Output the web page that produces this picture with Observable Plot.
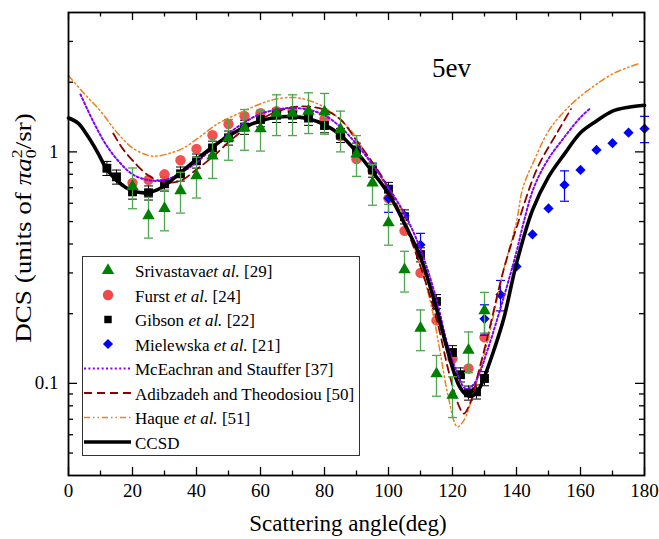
<!DOCTYPE html>
<html><head><meta charset="utf-8">
<script src="https://cdn.jsdelivr.net/npm/d3@7"></script>
<script src="https://cdn.jsdelivr.net/npm/@observablehq/plot@0.6"></script>
<style>
body{margin:0;background:#fff;}
#chart{position:relative;width:659px;height:539px;}
#chart svg text{font-family:"Liberation Serif","Times New Roman",serif;}
</style></head><body><div id="chart"></div>
<script>
// ---------- data ----------
const xMajorTicks = [0,20,40,60,80,100,120,140,160,180];
const xMinorTicks = [10,30,50,70,90,110,130,150,170];
const yMajorTicks = [0.1,1];
const yMinorTicks = [0.05,0.06,0.07,0.08,0.09,0.2,0.3,0.4,0.5,0.6,0.7,0.8,0.9,2,3];

const srivAngle = [20,25,30,35,40,45,50,55,60,65,70,75,80,85,90,95,100,105,110,115,120,125,130];
const srivDCS   = [0.71,0.53,0.57,0.68,0.79,0.96,1.15,1.27,1.26,1.47,1.47,1.50,1.49,1.25,0.98,0.735,0.494,0.31,0.173,0.110,0.089,0.139,0.206];
const srivErr   = [0.2,0.2,0.2,0.2,0.2,0.2,0.2,0.2,0.2,0.2,0.2,0.2,0.2,0.2,0.2,0.2,0.2,0.2,0.2,0.2,0.2,0.2,0.2];

const furstAngle = [20,25,30,35,40,45,50,55,60,65,70,75,80,85,90,95,100,105,110,115,120,125,130];
const furstDCS   = [0.735,0.757,0.80,0.92,1.03,1.18,1.32,1.43,1.47,1.50,1.50,1.46,1.39,1.17,0.93,0.83,0.63,0.456,0.30,0.187,0.128,0.116,0.158];

const gibAngle = [12,15,20,25,30,35,40,45,50,55,60,65,70,75,80,85,90,95,100,105,110,115,120,122.5,125,127.5,130];
const gibDCS   = [0.85,0.78,0.672,0.666,0.728,0.804,0.915,1.04,1.15,1.28,1.38,1.44,1.44,1.40,1.30,1.18,1.02,0.836,0.69,0.525,0.36,0.226,0.136,0.109,0.091,0.092,0.105];
const gibErr   = 0.07;

const mielAngle = [100,105,110,130,135,140,145,150,155,160,165,170,175,180];
const mielDCS   = [0.63,0.53,0.397,0.19,0.242,0.32,0.44,0.57,0.72,0.836,1.02,1.09,1.21,1.26];
const mielErr   = [0.13,0,0.12,0.15,0.15,0,0,0,0.15,0,0,0,0,0.13];

const mceAngle = [3.75,8,12,16,20,25,30,35,40,45,50,55,60,65,70,75,80,85,90,95,100,105,110,115,118,121,124,126,128,131,136,140,142.3,145.4,149.6,154.8,160,163];
const mceDCS   = [1.77,1.33,1.06,0.9,0.8,0.755,0.755,0.81,0.90,1.04,1.2,1.34,1.46,1.52,1.55,1.52,1.44,1.28,1.08,0.88,0.70,0.54,0.38,0.23,0.155,0.115,0.095,0.097,0.107,0.14,0.235,0.37,0.50,0.70,0.915,1.15,1.41,1.54];

const adiAngle = [14,17,20,25,30,35,40,45,50,55,60,65,70,75,80,85,90,95,100,105,110,115,119,122,123.5,125.5,128,131,136,140,146.5,153,157];
const adiDCS   = [1.2,1.03,0.92,0.79,0.74,0.75,0.84,0.95,1.1,1.25,1.38,1.49,1.56,1.57,1.52,1.38,1.12,0.9,0.70,0.49,0.32,0.19,0.11,0.08,0.074,0.082,0.11,0.16,0.31,0.47,0.85,1.23,1.53];

const haqAngle = [0,5,10,15,20,25,28,32,36,41,46.5,52,57,62,67,72,78,83,88,93,98,103,108,113,116,118.5,121.5,123.5,126.5,131,136,140,142,146,150,155,160,165,170,175,178];
const haqDCS   = [2.13,1.78,1.50,1.22,1.04,0.965,0.96,0.99,1.04,1.16,1.32,1.44,1.55,1.65,1.71,1.71,1.61,1.45,1.25,0.98,0.76,0.60,0.39,0.228,0.14,0.09,0.065,0.069,0.09,0.153,0.31,0.50,0.70,0.95,1.23,1.5,1.74,1.96,2.17,2.32,2.4];

const ccsdAngle = [0,3,6,9,12,15,18,21,25,29,33,38,45,50,55,60,65,70,75,80,85,90,95,100,105,110,115,117,120,122,124,126,128,130,133,136,140,145,150,155,160,165,170,175,180];
const ccsdDCS   = [1.40,1.33,1.17,1.0,0.84,0.755,0.70,0.672,0.667,0.70,0.77,0.88,1.05,1.17,1.28,1.36,1.41,1.42,1.39,1.31,1.18,1.0,0.82,0.66,0.49,0.35,0.21,0.165,0.117,0.098,0.09,0.088,0.093,0.107,0.14,0.19,0.33,0.56,0.78,0.98,1.21,1.36,1.50,1.56,1.59];

// ---------- build ----------
const fontFam = "Liberation Serif, Times New Roman, serif";
const W = 659, H = 539, mL = 68, mR = 15, mT = 12, mB = 64;
const plotW = W - mL - mR, plotH = H - mT - mB;

const C = {
  sriv: "#008000", srivBar: "#4ea64e", furst: "#f04848", gib: "#000000", miel: "#0000ff",
  mce: "#8000ff", adi: "#8b0000", haq: "#f0801e", ccsd: "#000000"
};
const DASH = { mce: "2,2.4", adi: "8,5", haq: "6,3,1.5,3,1.5,3" };

const zip = (a, v, e) => a.map((x, i) => ({a: x, v: v[i], e: e == null ? 0 : (Array.isArray(e) ? e[i] : e)}));
const sriv = zip(srivAngle, srivDCS, srivErr);
const furst = zip(furstAngle, furstDCS);
const gib = zip(gibAngle, gibDCS, gibErr);
const miel = zip(mielAngle, mielDCS, mielErr);
const mielBars = miel.filter(d => d.e > 0);
const mce = zip(mceAngle, mceDCS), adi = zip(adiAngle, adiDCS), haq = zip(haqAngle, haqDCS), ccsd = zip(ccsdAngle, ccsdDCS);

const capSymbol = {draw(ctx, size) { const r = Math.sqrt(size / Math.PI); ctx.moveTo(-r, 0); ctx.lineTo(r, 0); }};

function errorBars(data, color, width, cap) {
  return [
    Plot.ruleX(data, {x: "a", y1: d => d.v * (1 - d.e), y2: d => d.v * (1 + d.e), stroke: color, strokeWidth: width}),
    Plot.dot(data, {x: "a", y: d => d.v * (1 - d.e), symbol: capSymbol, r: cap, stroke: color, strokeWidth: width, fill: "none"}),
    Plot.dot(data, {x: "a", y: d => d.v * (1 + d.e), symbol: capSymbol, r: cap, stroke: color, strokeWidth: width, fill: "none"})
  ];
}
const curve = "catmull-rom";

const chart = Plot.plot({
  width: W, height: H,
  marginLeft: mL, marginRight: mR, marginTop: mT, marginBottom: mB,
  style: {fontFamily: fontFam, fontSize: "19px", color: "black", background: "white", overflow: "visible"},
  x: {domain: [0, 180]},
  y: {type: "log", domain: [0.04, 4]},
  marks: [
    ...errorBars(gib, C.gib, 1, 4.5),
    Plot.dot(furst, {x: "a", y: "v", r: 5.2, fill: C.furst, fillOpacity: 0.95, stroke: "none"}),
    Plot.dot(gib, {x: "a", y: "v", r: 5, symbol: "square", fill: C.gib, stroke: "none"}),
    ...errorBars(mielBars, C.miel, 1.2, 4.5),
    Plot.dot(miel, {x: "a", y: "v", r: 4.6, symbol: "diamond2", fill: C.miel, stroke: "none"}),
    Plot.line(haq, {x: "a", y: "v", stroke: C.haq, strokeWidth: 1.5, strokeDasharray: DASH.haq, curve}),
    Plot.line(adi, {x: "a", y: "v", stroke: C.adi, strokeWidth: 1.8, strokeDasharray: DASH.adi, curve}),
    Plot.line(mce, {x: "a", y: "v", stroke: C.mce, strokeWidth: 2, strokeDasharray: DASH.mce, curve}),
    Plot.line(ccsd, {x: "a", y: "v", stroke: C.ccsd, strokeWidth: 3.6, curve}),
    ...errorBars(sriv, C.srivBar, 1.3, 4.5),
    Plot.dot(sriv, {x: "a", y: "v", r: 4.6, symbol: "triangle", fill: C.sriv, stroke: "none"}),
    Plot.tickX(xMajorTicks, {x: d => d, insetTop: plotH - 8, stroke: "black", strokeWidth: 1.3}),
    Plot.tickX(xMinorTicks, {x: d => d, insetTop: plotH - 4.5, stroke: "black", strokeWidth: 1.3}),
    Plot.tickX(xMajorTicks, {x: d => d, insetBottom: plotH - 8, stroke: "black", strokeWidth: 1.3}),
    Plot.tickX(xMinorTicks, {x: d => d, insetBottom: plotH - 4.5, stroke: "black", strokeWidth: 1.3}),
    Plot.tickY(yMajorTicks, {y: d => d, insetRight: plotW - 9, stroke: "black", strokeWidth: 1.3}),
    Plot.tickY(yMinorTicks, {y: d => d, insetRight: plotW - 5, stroke: "black", strokeWidth: 1.3}),
    Plot.tickY(yMajorTicks, {y: d => d, insetLeft: plotW - 9, stroke: "black", strokeWidth: 1.3}),
    Plot.tickY(yMinorTicks, {y: d => d, insetLeft: plotW - 5, stroke: "black", strokeWidth: 1.3}),
    Plot.axisX({ticks: xMajorTicks, tickSize: 0, tickPadding: 8, fontSize: 19, fontFamily: fontFam, label: null, tickFormat: d => String(d)}),
    Plot.axisY({ticks: yMajorTicks, tickSize: 0, tickPadding: 10, fontSize: 19, fontFamily: fontFam, label: null, tickFormat: d => (d === 1 ? "1" : "0.1")}),
    Plot.frame({stroke: "black", strokeWidth: 1.8})
  ]
});
document.getElementById("chart").appendChild(chart);

// ---------- overlays: titles, label, legend ----------
const svg = d3.select(chart);

svg.append("text").attr("x", 348).attr("y", 531).attr("text-anchor", "middle")
  .style("font-family", fontFam).attr("font-size", 23).attr("fill", "black").text("Scattering angle(deg)");

const yl = svg.append("text").attr("transform", "translate(31,228) rotate(-90) scale(1.18,1)")
  .attr("text-anchor", "middle").style("font-family", fontFam).attr("font-size", 23).attr("fill", "black");
yl.append("tspan").text("DCS (units of ");
yl.append("tspan").attr("font-style", "italic").text("πa");
yl.append("tspan").attr("font-size", 15).attr("dy", 5).text("0");
yl.append("tspan").attr("font-size", 15).attr("dx", -7.5).attr("dy", -14).text("2");
yl.append("tspan").attr("dy", 9).text("/sr)");

svg.append("text").attr("x", 432).attr("y", 77).attr("text-anchor", "start").style("font-family", fontFam)
  .attr("font-size", 27).attr("fill", "black").text("5ev");

const lg = svg.append("g").style("font-family", fontFam).attr("font-size", 17).attr("fill", "black")
  .attr("text-anchor", "start");
lg.append("rect").attr("x", 82.5).attr("y", 256.5).attr("width", 277).attr("height", 199)
  .attr("fill", "white").attr("stroke", "#333").attr("stroke-width", 1);

const legendItems = [
  {kind: "sym", sym: d3.symbolTriangle, r: 4.6, color: C.sriv, parts: [["Srivastava", false], ["et al.", true], [" [29]", false]]},
  {kind: "sym", sym: d3.symbolCircle, r: 5.2, color: C.furst, parts: [["Furst ", false], ["et al.", true], [" [24]", false]]},
  {kind: "sym", sym: d3.symbolSquare, r: 4.2, color: C.gib, parts: [["Gibson ", false], ["et al.", true], [" [22]", false]]},
  {kind: "sym", sym: d3.symbolDiamond2, r: 4.6, color: C.miel, parts: [["Mielewska ", false], ["et al.", true], [" [21]", false]]},
  {kind: "line", color: C.mce, width: 2, dash: DASH.mce, parts: [["McEachran and Stauffer [37]", false]]},
  {kind: "line", color: C.adi, width: 1.8, dash: DASH.adi, parts: [["Adibzadeh and Theodosiou [50]", false]]},
  {kind: "line", color: C.haq, width: 1.5, dash: DASH.haq, parts: [["Haque ", false], ["et al.", true], [" [51]", false]]},
  {kind: "line", color: C.ccsd, width: 3.6, dash: null, parts: [["CCSD", false]]}
];
legendItems.forEach((it, i) => {
  const cy = 270.5 + i * 24.5;
  if (it.kind === "sym") {
    lg.append("path").attr("d", d3.symbol(it.sym, Math.PI * it.r * it.r)())
      .attr("transform", `translate(108,${cy})`).attr("fill", it.color);
  } else {
    lg.append("line").attr("x1", 84).attr("x2", 131).attr("y1", cy).attr("y2", cy)
      .attr("stroke", it.color).attr("stroke-width", it.width).attr("stroke-dasharray", it.dash);
  }
  const t = lg.append("text").attr("x", 135).attr("y", cy + 6.5).attr("text-anchor", "start");
  it.parts.forEach(([s, ital]) => {
    const sp = t.append("tspan").text(s);
    if (ital) sp.attr("font-style", "italic");
  });
});
</script>
</body></html>
